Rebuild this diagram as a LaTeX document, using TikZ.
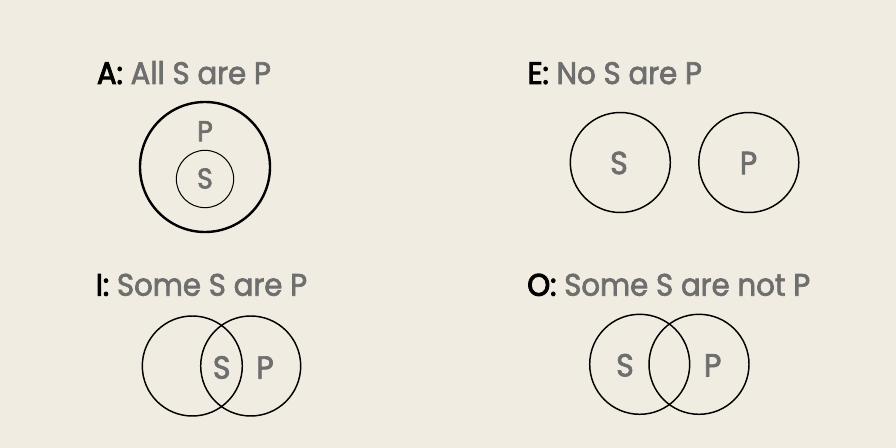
\documentclass[tikz,border=0pt]{standalone}
\usepackage{fontspec}
\setmainfont{Poppins}[FakeBold=2.2,FakeStretch=0.94]
\newfontfamily\keyfont{Poppins}[FakeBold=3.2,FakeStretch=0.94]
\definecolor{bg}{HTML}{F0ECE1}
\definecolor{txtgray}{HTML}{6E6E6E}
\begin{document}
\begin{tikzpicture}[x=0.75pt,y=-0.75pt,
  title/.style={anchor=base west,inner sep=0pt,font=\fontsize{23.3pt}{26pt}\selectfont,text=txtgray},
  letter/.style={inner sep=0pt,font=\fontsize{24pt}{28pt}\selectfont,text=txtgray},
  smallletter/.style={letter,font=\fontsize{21.5pt}{26pt}\selectfont},
  venn/.style={draw=black,circle,inner sep=0pt,line width=1.1pt}]
\newcommand{\keylab}[1]{{\keyfont\textcolor{black}{#1}}}
\fill[bg] (0,0) rectangle (896,448);
\useasboundingbox (0,0) rectangle (896,448);
% A
\node[title] (tA) at (96.7,84) {\keylab{A:} All S are P};
\node[venn,minimum size=97.5pt,line width=1.8pt] (cAP) at (205,167) {};
\node[venn,minimum size=43pt,line width=0.75pt] (cAS) at (205,179) {};
\node[smallletter] (lAP) at (205,131.2) {P};
\node[smallletter] (lAS) at (205,178.5) {S};
% E
\node[title] (tE) at (527.3,84) {\keylab{E:} No S are P};
\node[venn,minimum size=75pt] (cES) at (620.3,162.5) {};
\node[venn,minimum size=75pt] (cEP) at (748.8,162.5) {};
\node[letter] (lES) at (619,163) {S};
\node[letter] (lEP) at (748.5,163) {P};
% I
\node[title] (tI) at (95.5,295.7) {\keylab{I:} Some S are P};
\node[venn,minimum size=75pt] (cIS) at (192.3,366) {};
\node[venn,minimum size=75pt] (cIP) at (250.7,366) {};
\node[letter] (lIS) at (221.7,367.5) {S};
\node[letter] (lIP) at (265,367.5) {P};
% O
\node[title] (tO) at (527,295.7) {\keylab{O:} Some S are not P};
\node[venn,minimum size=75pt] (cOS) at (639.7,364.3) {};
\node[venn,minimum size=75pt] (cOP) at (699,364.3) {};
\node[letter] (lOS) at (625,365.3) {S};
\node[letter] (lOP) at (712.7,365.3) {P};
\end{tikzpicture}
\end{document}
